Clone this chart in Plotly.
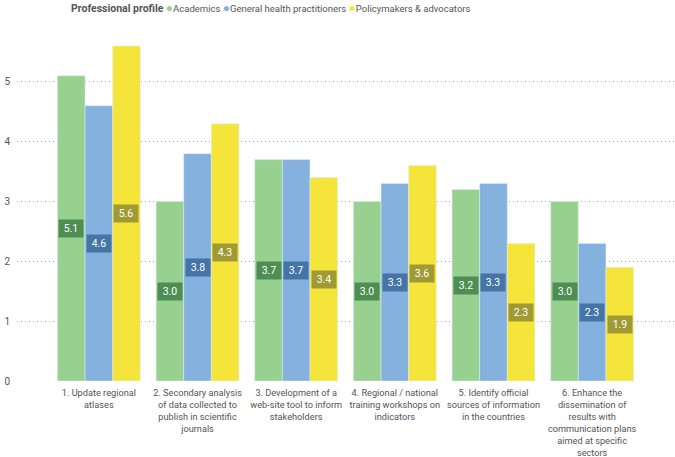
import plotly.graph_objects as go

categories = [
    "1. Update regional<br>atlases",
    "2. Secondary analysis<br>of data collected to<br>publish in scientific<br>journals",
    "3. Development of a<br>web-site tool to inform<br>stakeholders",
    "4. Regional / national<br>training workshops on<br>indicators",
    "5. Identify official<br>sources of information<br>in the countries",
    "6. Enhance the<br>dissemination of<br>results with<br>communication plans<br>aimed at specific<br>sectors",
]
academics = [5.1, 3.0, 3.7, 3.0, 3.2, 3.0]
practitioners = [4.6, 3.8, 3.7, 3.3, 3.3, 2.3]
policymakers = [5.6, 4.3, 3.4, 3.6, 2.3, 1.9]

series = [
    ("Academics", academics, "#98d18f", "#4e8d54"),
    ("General health practitioners", practitioners, "#84b1de", "#4574a6"),
    ("Policymakers & advocators", policymakers, "#f5e53a", "#a09a34"),
]

FONT = "Roboto, sans-serif"
fig = go.Figure()

for name, vals, col, _ in series:
    fig.add_trace(go.Bar(x=categories, y=vals, name=name, marker_color=col,
                         showlegend=False, hoverinfo="y"))

# value labels in the middle of each bar
bar_px = 27.6
for si, (name, vals, col, dark) in enumerate(series):
    for cat, v in zip(categories, vals):
        fig.add_annotation(x=cat, y=v / 2, text=f"{v:.1f}", showarrow=False,
                           xshift=(si - 1) * bar_px,
                           font=dict(color="white", size=10.5, family=FONT),
                           bgcolor=dark, borderpad=2, width=20)

# compact legend line: title + coloured dots
legend_txt = "<b style='font-size:10.5px'>Professional profile</b> " + " ".join(
    f"<span style='color:{col}; font-size:12px'>●</span>{name}"
    for name, vals, col, _ in series)
fig.add_annotation(xref="paper", yref="paper", x=(69 - 17) / 658, y=1.038,
                   xanchor="left", yanchor="middle", showarrow=False,
                   text=legend_txt, font=dict(size=9.5, color="#555555", family=FONT))

fig.update_layout(
    width=675, height=457,
    barmode="group", bargap=0.16, bargroupgap=0,
    paper_bgcolor="white", plot_bgcolor="white",
    margin=dict(l=17, r=0, t=22, b=76),
    font=dict(family=FONT, size=10, color="#555555"),
    showlegend=False,
    xaxis=dict(range=[-0.83, 5.84], showgrid=False, showline=False, automargin=False,
               ticks="", ticklabelstandoff=5, tickfont=dict(size=9.2, color="#555555")),
    yaxis=dict(range=[0, 6], tickvals=[0, 1, 2, 3, 4, 5], automargin=False,
               showgrid=True, gridcolor="#a8a8a8", griddash="1px,3px", gridwidth=1,
               zeroline=False, showline=False,
               tickfont=dict(size=10, color="#555555"), ticklabelstandoff=6),
)

# drop the browser's default page margin so the figure sits at 0,0
fig.write_html("out.html", config={"displayModeBar": False},
               post_script="document.body.style.margin='0';")
